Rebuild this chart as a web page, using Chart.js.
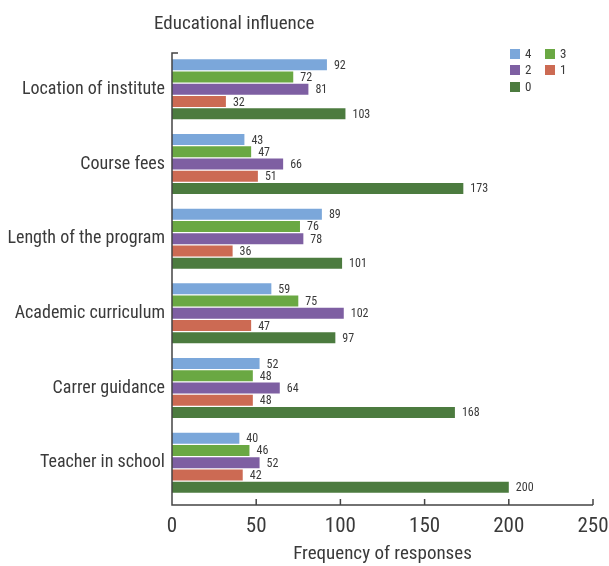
<!DOCTYPE html>
<html>
<head>
<meta charset="utf-8">
<script src="https://cdn.jsdelivr.net/npm/chart.js@4.4.0/dist/chart.umd.min.js"></script>
<style>
  html, body { margin: 0; padding: 0; background: #fff; }
  #wrap { width: 609px; height: 566px; }
</style>
</head>
<body>
<div id="wrap"><canvas id="myChart" width="609" height="566"></canvas></div>
<script>
var FONT = "'Liberation Sans Narrow', 'Roboto Condensed', Roboto, sans-serif";
var TEXT = '#3a3a3a';

var categories = ['Location of institute', 'Course fees', 'Length of the program',
    'Academic curriculum', 'Carrer guidance', 'Teacher in school'];
var seriesNames = ['4', '3', '2', '1', '0'];
var score4 = [92, 43, 89, 59, 52, 40];
var score3 = [72, 47, 76, 75, 48, 46];
var score2 = [81, 66, 78, 102, 64, 52];
var score1 = [32, 51, 36, 47, 48, 42];
var score0 = [103, 173, 101, 97, 168, 200];
var xTicks = [0, 50, 100, 150, 200, 250];
var colors = ['#7ba7da', '#6aa843', '#7e5fa2', '#cc6a53', '#4c7b3f'];

var allSeries = [score4, score3, score2, score1, score0];
var datasets = [];
for (var i = 0; i < allSeries.length; i++) {
    datasets.push({
        label: seriesNames[i],
        data: allSeries[i],
        backgroundColor: colors[i],
        borderWidth: 0,
        barPercentage: 0.9,
        categoryPercentage: 0.82
    });
}

// axes, title, legend and value labels
var extras = {
    id: 'extras',
    afterDraw: function (chart) {
        var c = chart.ctx;
        var area = chart.chartArea;
        var xs = chart.scales.x;
        var axisY = area.bottom + 5;
        c.save();
        c.strokeStyle = '#444';
        c.lineWidth = 1.5;
        c.beginPath();
        c.moveTo(area.left + 6, area.top + 1);
        c.lineTo(area.left, area.top + 1);
        c.lineTo(area.left, axisY);
        c.lineTo(xs.getPixelForValue(250), axisY);
        c.stroke();
        xTicks.forEach(function (t) {
            if (t === 0) return;
            var px = xs.getPixelForValue(t);
            c.beginPath();
            c.moveTo(px, axisY);
            c.lineTo(px, axisY - 6);
            c.stroke();
        });

        // value labels
        c.fillStyle = TEXT;
        c.font = '12px ' + FONT;
        c.textBaseline = 'middle';
        c.textAlign = 'left';
        chart.data.datasets.forEach(function (ds, di) {
            chart.getDatasetMeta(di).data.forEach(function (bar, j) {
                c.fillText(ds.data[j], bar.x + 7, bar.y + 1);
            });
        });

        // title
        c.font = '19px ' + FONT;
        c.fillText('Educational influence', 154, 24);

        // legend
        var items = [[0, 510, 54], [1, 545, 54], [2, 510, 70], [3, 545, 70], [4, 510, 87]];
        c.font = '13px ' + FONT;
        items.forEach(function (it) {
            c.fillStyle = colors[it[0]];
            c.fillRect(it[1], it[2] - 5, 10, 10);
            c.fillStyle = TEXT;
            c.fillText(seriesNames[it[0]], it[1] + 15, it[2] + 1);
        });
        c.restore();
    }
};

var myChart = new Chart(document.getElementById('myChart').getContext('2d'), {
    type: 'bar',
    data: { labels: categories, datasets: datasets },
    plugins: [extras],
    options: {
        indexAxis: 'y',
        responsive: false,
        animation: false,
        layout: { padding: { top: 52, right: 0, left: 0, bottom: 0 } },
        plugins: { legend: { display: false }, tooltip: { enabled: false } },
        scales: {
            y: {
                grid: { display: false, drawTicks: false },
                border: { display: false },
                ticks: { color: TEXT, font: { family: FONT, size: 18 }, padding: 7 },
                afterFit: function (s) { s.width = 172; }
            },
            x: {
                min: 0,
                max: 250,
                afterBuildTicks: function (s) {
                    s.ticks = xTicks.map(function (v) { return { value: v }; });
                },
                grid: { display: false, drawTicks: false },
                border: { display: false },
                ticks: { color: TEXT, font: { family: FONT, size: 21 }, padding: 14 },
                title: {
                    display: true,
                    text: 'Frequency of responses',
                    color: TEXT,
                    font: { family: FONT, size: 19 },
                    padding: { top: 6, bottom: 0 }
                },
                afterFit: function (s) {
                    s.height = 66;
                    s.paddingLeft = 0;
                    s.paddingRight = 16;
                }
            }
        }
    }
});
</script>
</body>
</html>
